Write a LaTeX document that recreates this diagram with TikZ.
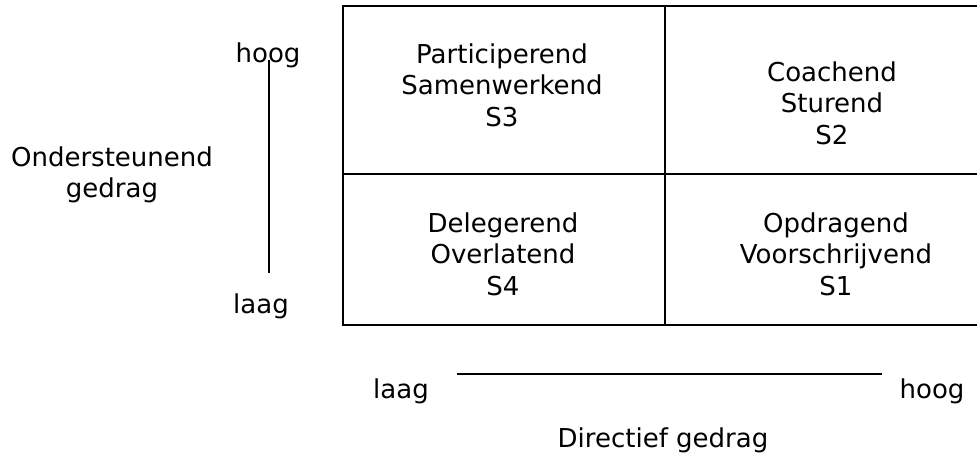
\documentclass[tikz,border=0pt]{standalone}
\usepackage{fontspec}
\setmainfont{DejaVu Sans}
\usepackage{tikz}

\tikzset{
    cell/.style={align=center,font=\fontsize{26pt}{31.5pt}\selectfont},
    lbl/.style={anchor=base,font=\fontsize{26pt}{31.5pt}\selectfont,inner sep=0pt},
}

\begin{document}
\begin{tikzpicture}[x=1pt,y=-1pt,line width=1.6pt]
        \useasboundingbox (0,0) rectangle (977,455);

        \draw (343,6) rectangle (980,325);
        \draw (665,6) -- (665,325);
        \draw (343,174) -- (980,174);

        \node[cell] (S3) at (502,85) {Participerend\\Samenwerkend\\S3};
        \node[cell] (S2) at (832,103) {Coachend\\Sturend\\S2};
        \node[cell] (S4) at (503,254) {Delegerend\\Overlatend\\S4};
        \node[cell] (S1) at (836,254) {Opdragend\\Voorschrijvend\\S1};

        \node[lbl] (yhoog) at (268,62) {hoog};
        \node[lbl] (ylaag) at (261,313) {laag};
        \node[cell] (ylabel) at (112,175) {Ondersteunend\\gedrag};
        \coordinate (ytop) at (269,60);
        \coordinate (ybot) at (269,273);
        \draw[line width=1.3pt] (ytop) -- (ybot);

        \node[lbl] (xlaag) at (401,398) {laag};
        \node[lbl] (xhoog) at (932,398) {hoog};
        \node[lbl] (xlabel) at (663,447) {Directief gedrag};
        \coordinate (xleft) at (457,374);
        \coordinate (xright) at (882,374);
        \draw[line width=1.3pt] (xleft) -- (xright);
    \end{tikzpicture}
\end{document}
